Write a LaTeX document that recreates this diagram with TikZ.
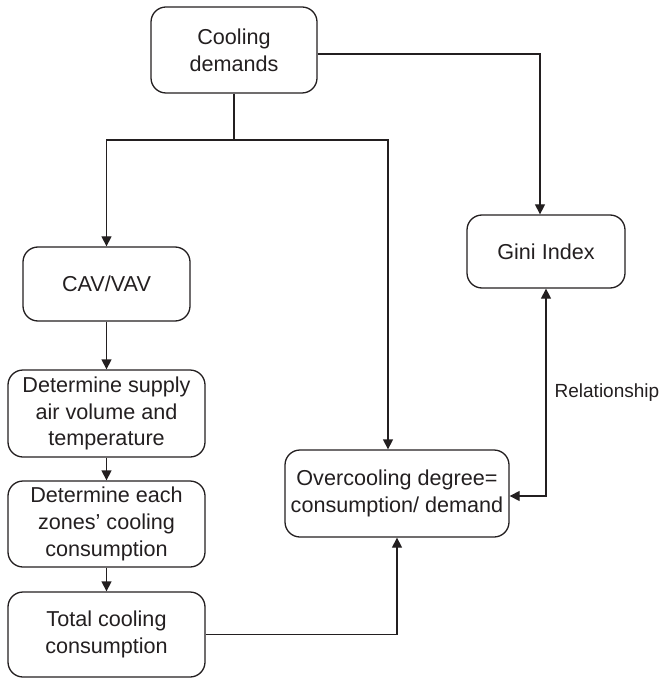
\documentclass[tikz,border=0pt]{standalone}
\usepackage{fontspec}
\setmainfont{Liberation Sans}
\usetikzlibrary{arrows.meta}
\definecolor{ink}{RGB}{35,31,32}

\begin{document}
\begin{tikzpicture}[x=0.5pt,y=-0.5pt,line width=0.65pt,color=ink,
	box/.style={draw,rounded corners=7.5pt,align=center,inner sep=0pt,
		font=\fontsize{10.8}{13.35}\selectfont},
	>={Triangle[length=5pt,width=5pt]}]
	\useasboundingbox (0,0) rectangle (661,678);
	\node[box,minimum width=83pt,minimum height=43pt] (demand) at (234,50) {Cooling\\demands};
	\node[box,minimum width=79pt,minimum height=36.5pt] (gini) at (546,251.5) {Gini Index};
	\node[box,minimum width=83.5pt,minimum height=37pt] (cav) at (106.5,284) {CAV/VAV};
	\node[box,minimum width=98.5pt,minimum height=43.5pt] (supply) at (106.5,413.5) {Determine supply\\air volume and\\temperature};
	\node[box,minimum width=98.5pt,minimum height=43pt] (zones) at (106.5,524) {Determine each\\zones' cooling\\consumption};
	\node[box,minimum width=98.5pt,minimum height=42.5pt] (total) at (106.5,634.5) {Total cooling\\consumption};
	\node[box,minimum width=112pt,minimum height=43.5pt] (over) at (397,493.5) {Overcooling degree=\\consumption/ demand};
	\coordinate (split) at (234,140);
	\draw (demand) -- (split);
	\draw[->] (split) -| (cav);
	\draw[->] (split) -| ([xshift=-4.5pt]over.north);
	\draw[->] ([yshift=-2pt]demand.east) -| ([xshift=-3pt]gini.north);
	\draw[->] (cav) -- (supply);
	\draw[->] (supply) -- (zones);
	\draw[->] (zones) -- (total);
	\draw[->] (total) -| (over);
	\draw[<->] ([yshift=-1.25pt]over.east) -| (gini)
		node[pos=0.75,right=4pt,inner sep=0pt,font=\fontsize{9.5}{11}\selectfont] (rel) {Relationship};
\end{tikzpicture}
\end{document}
